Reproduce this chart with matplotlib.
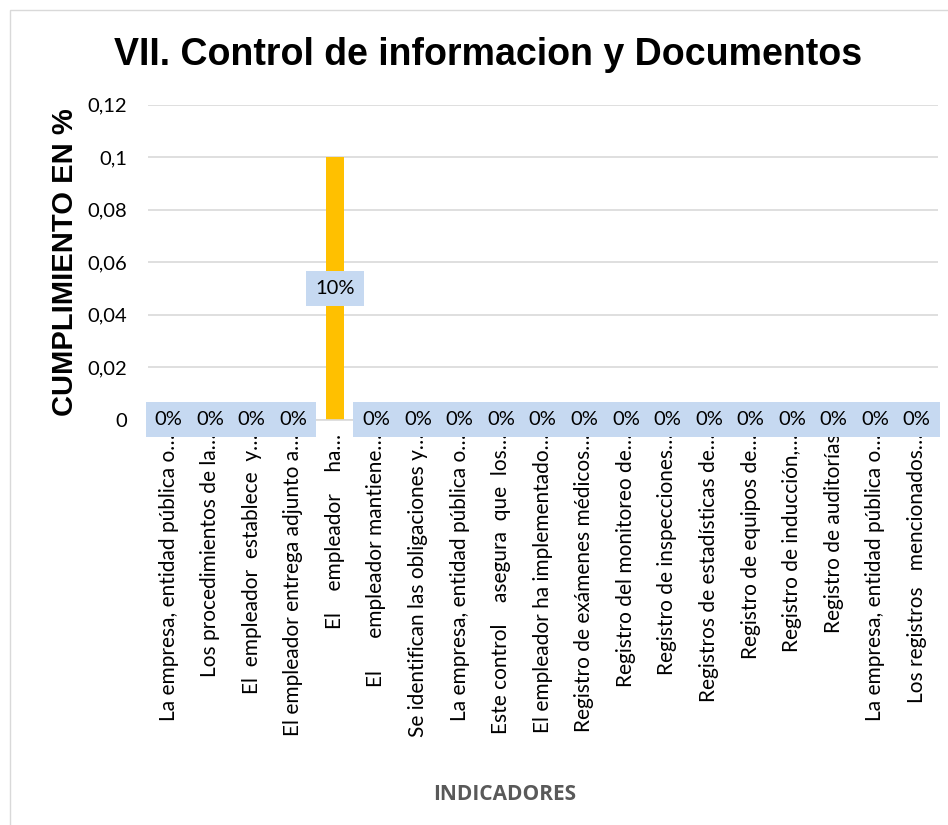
import numpy as np
import matplotlib
matplotlib.use("Agg")
from matplotlib import pyplot as plt
from matplotlib.patches import Rectangle

indicadores = [
    "La empresa, entidad pública o…",
    "Los procedimientos de la…",
    "El  empleador  establece  y…",
    "El empleador entrega adjunto a…",
    "El    empleador    ha…",
    "El      empleador mantiene…",
    "Se identifican las obligaciones y…",
    "La empresa, entidad pública o…",
    "Este control    asegura  que  los…",
    "El empleador ha implementado…",
    "Registro de exámenes médicos…",
    "Registro del monitoreo de…",
    "Registro de inspecciones…",
    "Registros de estadísticas de…",
    "Registro de equipos de…",
    "Registro de inducción,…",
    "Registro de auditorías",
    "La empresa, entidad pública o…",
    "Los registros   mencionados…",
]
cumplimiento = [0, 0, 0, 0, 0.1, 0, 0, 0, 0, 0, 0, 0, 0, 0, 0, 0, 0, 0, 0]
yticks = [0, 0.02, 0.04, 0.06, 0.08, 0.1, 0.12]
yticklabels = ["0", "0,02", "0,04", "0,06", "0,08", "0,1", "0,12"]

fig = plt.figure(figsize=(9.48, 8.25), dpi=100)
ax = fig.add_axes([0.156, 0.491, 0.833, 0.382])

x = np.arange(len(indicadores))
ax.bar(x, cumplimiento, width=0.43, color="#FFC000", zorder=2)

ax.set_xlim(-0.5, len(indicadores) - 0.5)
ax.set_ylim(0, 0.12)
ax.set_yticks(yticks)
ax.set_yticklabels(yticklabels, fontsize=14.5, family="Lato")
ax.set_xticks(x)
ax.set_xticklabels(indicadores, rotation=90, ha="center", va="top",
                   fontsize=15, family="Lato")
ax.tick_params(axis="both", length=0)
ax.tick_params(axis="x", pad=10)
ax.tick_params(axis="y", pad=15)
ax.grid(axis="y", color="#D9D9D9", linewidth=1.2, zorder=0)
for s in ["top", "right", "left"]:
    ax.spines[s].set_visible(False)
ax.spines["bottom"].set_color("#D9D9D9")
ax.spines["bottom"].set_linewidth(1.2)

# data labels
for xi, v in zip(x, cumplimiento):
    ax.text(xi, v / 2, f"{v * 100:.0f}%", ha="center", va="center",
            fontsize=14.5, family="Lato", zorder=4,
            bbox=dict(facecolor="#C6D9F1", edgecolor="none", pad=6.5))

ax.set_ylabel("CUMPLIMIENTO EN %", fontsize=21, fontweight="bold",
              family="Liberation Sans", labelpad=6)
fig.text(0.515, 0.933, "VII. Control de informacion y Documentos",
         ha="center", va="center", fontsize=27, fontweight="bold",
         family="Liberation Sans")
fig.text(0.532, 0.037, "INDICADORES", ha="center", va="center",
         fontsize=15, fontweight="bold", family="Open Sans", color="#595959")

fig.patches.append(Rectangle((10 / 948, -0.1), 1.2, 1 - 10 / 825 + 0.1,
                             transform=fig.transFigure, fill=False,
                             edgecolor="#D9D9D9", linewidth=1))

fig.savefig("out.png", dpi=100)
